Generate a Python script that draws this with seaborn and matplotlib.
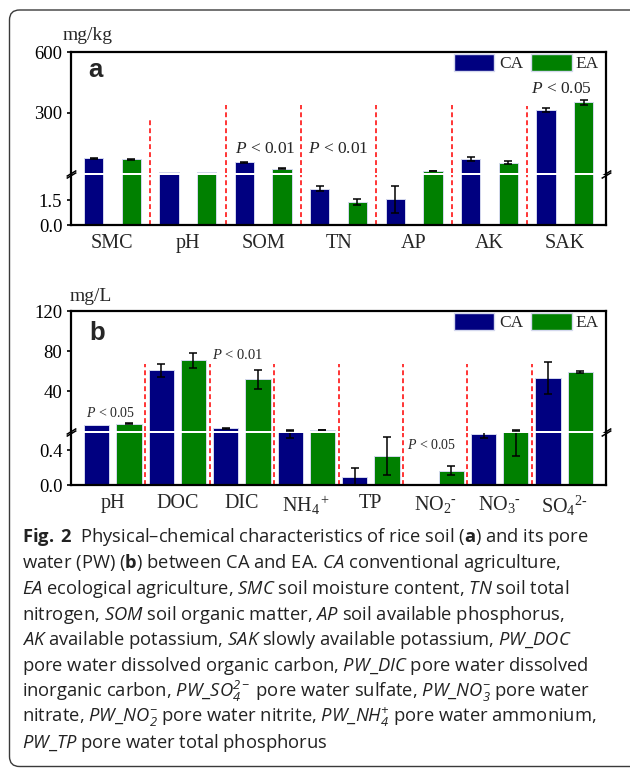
import numpy as np
import pandas as pd
import matplotlib.pyplot as plt
import seaborn as sns
from matplotlib.patches import Patch, FancyBboxPatch
from matplotlib.transforms import IdentityTransform

sns.set_style("ticks")
plt.rcParams["font.family"] = ["Liberation Serif", "DejaVu Serif"]
plt.rcParams["mathtext.fontset"] = "custom"
plt.rcParams["mathtext.default"] = "regular"
plt.rcParams["mathtext.rm"] = "Liberation Serif"
plt.rcParams["mathtext.it"] = "Liberation Serif:italic"
plt.rcParams["mathtext.bf"] = "Open Sans:bold"
plt.rcParams["mathtext.sf"] = "Open Sans:italic"

# (a) rice soil, mg/kg
soil_cats = ["SMC", "pH", "SOM", "TN", "AP", "AK", "SAK"]
soil_ca = [73.5, 6.2, 53.6, 2.19, 1.54, 70.0, 313.0]
soil_ea = [68.5, 6.4, 22.0, 1.40, 10.4, 51.6, 351.6]
soil_ca_err = [2.5, 0.0, 3.0, 0.16, 0.81, 11.0, 10.0]
soil_ea_err = [2.5, 0.0, 1.5, 0.18, 1.5, 6.5, 13.0]
# (x, y, label, segment, size)
soil_sig = [(2.03, 118, "0.01", "up", 12.5),
            (2.99, 118, "0.01", "up", 12.5),
            (5.95, 416, "0.05", "up", 12.5)]
soil_div_top = [268, 340, 340, 340, 340, 335]

# (b) pore water, mg/L
pw_cats = ["pH", "DOC", "DIC", r"NH$_4$$^+$", "TP", r"NO$_2$$^{\text{-}}$",
           r"NO$_3$$^{\text{-}}$", r"SO$_4$$^{2\text{-}}$"]
pw_ca = [6.2, 60.8, 2.8, 0.62, 0.098, 0.0, 0.585, 53.1]
pw_ea = [7.4, 71.0, 51.8, 0.9, 0.338, 0.165, 0.62, 59.4]
pw_ca_err = [0.0, 6.6, 0.5, 0.08, 0.1, 0.0, 0.035, 15.8]
pw_ea_err = [0.4, 7.5, 9.2, 0.05, 0.22, 0.05, 0.28, 0.8]
pw_sig = [(-0.03, 17.7, "0.05", "up", 10),
          (1.93, 76, "0.01", "up", 10.5),
          (4.95, 0.46, "0.05", "lo", 10)]
pw_div_top = [67] * 7

caption = [
    r"$\mathbf{Fig.\ 2}$  Physical–chemical characteristics of rice soil ($\mathbf{a}$) and its pore",
    r"water (PW) ($\mathbf{b}$) between CA and EA. $\mathsf{CA}$ conventional agriculture,",
    r"$\mathsf{EA}$ ecological agriculture, $\mathsf{SMC}$ soil moisture content, $\mathsf{TN}$ soil total",
    r"nitrogen, $\mathsf{SOM}$ soil organic matter, $\mathsf{AP}$ soil available phosphorus,",
    r"$\mathsf{AK}$ available potassium, $\mathsf{SAK}$ slowly available potassium, $\mathsf{PW}$_$\mathsf{DOC}$",
    r"pore water dissolved organic carbon, $\mathsf{PW}$_$\mathsf{DIC}$ pore water dissolved",
    r"inorganic carbon, $\mathsf{PW}$_$\mathsf{SO}_\mathsf{4}^\mathsf{2-}$ pore water sulfate, $\mathsf{PW}$_$\mathsf{NO}_\mathsf{3}^\mathsf{-}$ pore water",
    r"nitrate, $\mathsf{PW}$_$\mathsf{NO}_\mathsf{2}^\mathsf{-}$ pore water nitrite, $\mathsf{PW}$_$\mathsf{NH}_\mathsf{4}^\mathsf{+}$ pore water ammonium,",
    r"$\mathsf{PW}$_$\mathsf{TP}$ pore water total phosphorus",
]

NAVY, GREEN, RED = "#000080", "#008000", "#ff3535"
EDGE = "#d4d8ee"
W, H = 630, 768


def fx(x):
    return x / W


def fy(y):
    return 1 - y / H


def rect(l, r, t, b):
    return [l / W, 1 - b / H, (r - l) / W, (b - t) / H]


def draw_panel(fig, cats, ca, ea, ca_err, ea_err, up_box, lo_box, up_lim, lo_lim,
               up_ticks, lo_ticks, xlim, gap, div_top, sig, legend_corner):
    ax_up = fig.add_axes(rect(*up_box))
    ax_lo = fig.add_axes(rect(*lo_box))
    n = len(cats)
    df = pd.DataFrame({"item": cats * 2,
                       "group": ["CA"] * n + ["EA"] * n,
                       "value": ca + ea})
    errs = {"CA": np.array(ca_err), "EA": np.array(ea_err)}
    divs = np.arange(n - 1) + 0.5

    for ax, seg in ((ax_up, "up"), (ax_lo, "lo")):
        sns.barplot(data=df, x="item", y="value", hue="group", order=cats,
                    hue_order=["CA", "EA"], palette=[NAVY, GREEN], saturation=1,
                    width=1.0, gap=gap, errorbar=None, legend=False,
                    linewidth=0.7, edgecolor=EDGE, ax=ax, zorder=2)
        for cont, key in zip(ax.containers, ["CA", "EA"]):
            xs = np.array([b.get_x() + b.get_width() / 2 for b in cont])
            hs = np.array([b.get_height() for b in cont])
            e = errs[key]
            # only the part of an error bar that belongs to this segment
            if seg == "up":
                m = (e > 0) & (hs > up_lim[0])
            else:
                m = (e > 0) & (hs - e < lo_lim[1])
            ax.errorbar(xs[m], hs[m], yerr=e[m], fmt="none", ecolor="black",
                        elinewidth=1.1, capsize=3, capthick=1.1, zorder=3)
        ax.set_xlim(*xlim)
        ax.set_xlabel("")
        ax.set_ylabel("")
        ax.tick_params(axis="y", left=True, direction="out", length=3,
                       width=1.2, labelsize=13.5, pad=3, colors="black")
        for s in ax.spines.values():
            s.set_linewidth(1.6)
            s.set_color("black")

    ax_lo.vlines(divs, lo_lim[0], lo_lim[1], colors=RED, linewidth=1.4,
                 linestyles=(0, (2.5, 1.6)), zorder=1)
    ax_up.vlines(divs, up_lim[0], div_top, colors=RED, linewidth=1.4,
                 linestyles=(0, (2.5, 1.6)), zorder=1)

    ax_up.set_ylim(*up_lim)
    ax_up.set_yticks(up_ticks)
    ax_up.set_yticklabels([f"{t:g}" for t in up_ticks])
    ax_lo.set_ylim(*lo_lim)
    ax_lo.set_yticks(lo_ticks)
    ax_lo.set_yticklabels([f"{t:.1f}" for t in lo_ticks])
    ax_up.tick_params(axis="x", bottom=False, labelbottom=False)
    ax_lo.tick_params(axis="x", bottom=False, labelsize=14.5, pad=3)
    ax_up.spines["bottom"].set_visible(False)
    ax_lo.spines["top"].set_visible(False)

    # axis break marks
    kw = dict(marker=[(-1, -0.6), (1, 0.6)], markersize=7, linestyle="none",
              color="k", mec="k", mew=1.1, clip_on=False)
    ax_up.plot([0, 1], [0, 0], transform=ax_up.transAxes, **kw)
    ax_lo.plot([0, 1], [1, 1], transform=ax_lo.transAxes, **kw)

    for x, y, p, seg, size in sig:
        ax = ax_up if seg == "up" else ax_lo
        ax.text(x, y, r"$\mathit{P}$ < " + p, ha="center", va="center",
                fontsize=size, zorder=4)

    handles = [Patch(facecolor=NAVY, edgecolor=EDGE, label="CA"),
               Patch(facecolor=GREEN, edgecolor=EDGE, label="EA")]
    ax_up.legend(handles=handles, loc="upper right", ncol=2, frameon=False,
                 fontsize=12.5, handlelength=2.35, handleheight=1.15,
                 handletextpad=0.25, columnspacing=0.45, borderpad=0,
                 borderaxespad=0,
                 bbox_to_anchor=(fx(legend_corner[0]), fy(legend_corner[1])),
                 bbox_transform=fig.transFigure)
    return ax_up, ax_lo


fig = plt.figure(figsize=(6.3, 7.68), dpi=100)

draw_panel(fig, soil_cats, soil_ca, soil_ea, soil_ca_err, soil_ea_err,
           (70.7, 606, 52.3, 172.6), (70.7, 606, 174.9, 225.3),
           (3, 600), (0, 3), [300, 600], [0, 1.5],
           (-0.553, 6.546), 0.488, soil_div_top, soil_sig, (599, 54))
fig.text(fx(63), fy(35), "mg/kg", fontsize=14, va="center", ha="left")
fig.text(fx(88), fy(77), "a", fontsize=18.5, fontweight="bold",
         fontfamily="Liberation Sans", va="baseline", ha="left")

draw_panel(fig, pw_cats, pw_ca, pw_ea, pw_ca_err, pw_ea_err,
           (70.7, 606, 311, 430.6), (70.7, 606, 433.2, 485),
           (0.6, 120), (0, 0.6), [40, 80, 120], [0, 0.4],
           (-0.654, 7.649), 0.216, pw_div_top, pw_sig, (599, 313))
fig.text(fx(70), fy(296.7), "mg/L", fontsize=14, va="center", ha="left")
fig.text(fx(89), fy(340), "b", fontsize=18.5, fontweight="bold",
         fontfamily="Liberation Sans", va="baseline", ha="left")

cap_texts = []
for i, line in enumerate(caption):
    cap_texts.append(fig.text(fx(22), fy(542.5 + 25.7 * i), line,
                              fontfamily="Open Sans", fontsize=12.5,
                              color="#222222", va="baseline", ha="left"))

# scale the caption so its first line spans the same width as in the figure
fig.canvas.draw()
renderer = fig.canvas.get_renderer()
w_first = cap_texts[0].get_window_extent(renderer).width
scale = 566 / w_first
for t in cap_texts:
    t.set_fontsize(t.get_fontsize() * scale)

border = FancyBboxPatch((9.5, 1.5), 640, 756.5,
                        boxstyle="round,pad=0,rounding_size=10",
                        facecolor="none", edgecolor="#3a3a3a", linewidth=1.0,
                        transform=IdentityTransform())
fig.add_artist(border)

fig.savefig("out.png", dpi=100)
